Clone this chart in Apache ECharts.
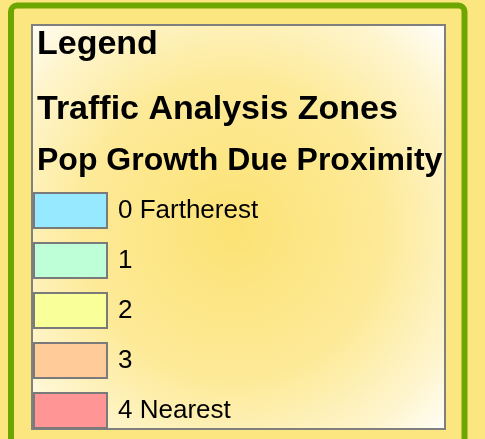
<!DOCTYPE html>
<html>
<head>
<meta charset="utf-8">
<script src="https://cdn.jsdelivr.net/npm/echarts@6/dist/echarts.min.js"></script>
<style>
html,body{margin:0;padding:0;background:#FCE680;}
#chart{width:485px;height:439px;}
</style>
</head>
<body>
<div id="chart"></div>
<script>
var titleText = 'Legend';
var layerNames = ['Traffic Analysis Zones', 'Pop Growth Due Proximity'];
var classes = ['0 Fartherest', '1', '2', '3', '4 Nearest'];
var classColors = ['#97E9FF', '#BEFFD8', '#F9FF99', '#FFCC99', '#FF9595'];

var FONT = '"Liberation Sans", Arial, sans-serif';
var chart = echarts.init(document.getElementById('chart'));

var series = classes.map(function (c, i) {
  return { name: c, type: 'bar', data: [], itemStyle: { color: classColors[i] } };
});

chart.setOption({
  backgroundColor: '#FCE680',
  animation: false,
  grid: { show: false, left: 0, top: 0, width: 1, height: 1 },
  xAxis: { show: false, type: 'category', data: [] },
  yAxis: { show: false, type: 'value' },
  graphic: [
    { type: 'rect', z: 0, shape: { x: 11, y: 5.5, width: 453.5, height: 480, r: 6 },
      style: { fill: 'none', stroke: '#6DA600', lineWidth: 6 } },
    { type: 'rect', z: 1, shape: { x: 32, y: 25, width: 413, height: 404 },
      style: {
        fill: { type: 'radial', x: 0.487, y: 0.507, r: 0.74,
          colorStops: [
            { offset: 0, color: '#FCE274' },
            { offset: 0.5, color: '#FDEA98' },
            { offset: 0.8, color: '#FEF5CE' },
            { offset: 1, color: '#FFFFFF' }] },
        stroke: '#7F7F7F', lineWidth: 2 } },
    { type: 'text', z: 5, x: 37, y: 45,
      style: { text: titleText, font: 'bold 34px ' + FONT, fill: '#000', textVerticalAlign: 'middle' } },
    { type: 'text', z: 5, x: 37, y: 110,
      style: { text: layerNames[0], font: 'bold 34px ' + FONT, fill: '#000', textVerticalAlign: 'middle' } },
    { type: 'text', z: 5, x: 37, y: 161,
      style: { text: layerNames[1], font: 'bold 32px ' + FONT, fill: '#000', textVerticalAlign: 'middle' } }
  ],
  legend: {
    orient: 'vertical', left: 33, top: 192, padding: 0,
    icon: 'rect', itemWidth: 73, itemHeight: 35, itemGap: 13,
    selectedMode: false,
    itemStyle: { borderColor: '#7A7A7A', borderWidth: 2 },
    textStyle: { fontSize: 26, fontFamily: FONT, color: '#000', padding: [0, 0, 0, 6] },
    data: classes
  },
  series: series
});
</script>
</body>
</html>
